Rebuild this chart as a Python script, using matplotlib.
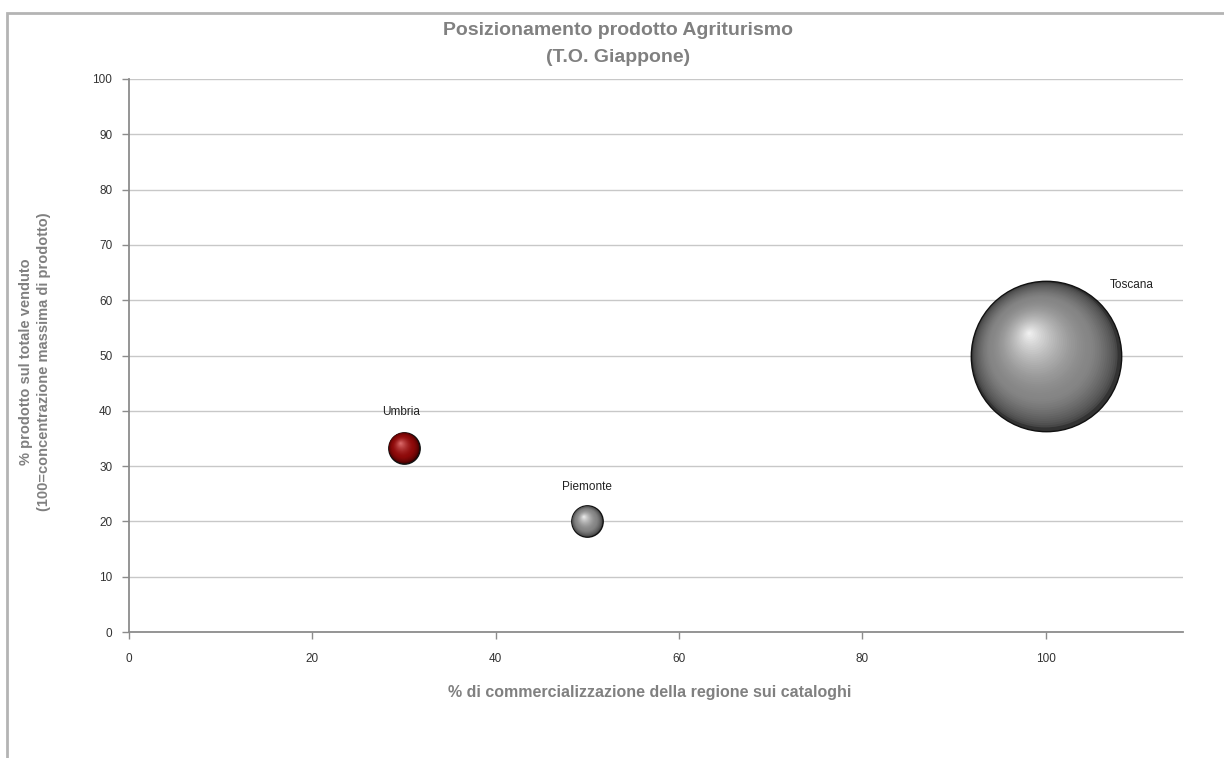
import numpy as np
import matplotlib
matplotlib.use("Agg")
import matplotlib.pyplot as plt
from matplotlib import transforms
from matplotlib.colors import to_rgb
from matplotlib.patches import Rectangle

# ---- data ----
regions = ["Umbria", "Piemonte", "Toscana"]
x_values = [30, 50, 100]          # % di commercializzazione
y_values = [33.3, 20, 50]         # % prodotto sul totale venduto
bubble_sizes = [1, 1, 23]         # relative bubble area
x_ticks = [0, 20, 40, 60, 80, 100]
y_ticks = [0, 10, 20, 30, 40, 50, 60, 70, 80, 90, 100]

# ---- styling ----
base_colors = {"Umbria": ("#3d0000", "#8e0a0a", "#e07070"),
               "Piemonte": ("#333333", "#858585", "#f0f0f0"),
               "Toscana": ("#333333", "#858585", "#f4f4f4")}
label_offsets = {"Umbria": (-2, 26), "Piemonte": (0, 25), "Toscana": (62, 51)}

FONT = ["Liberation Sans Narrow", "Liberation Sans", "DejaVu Sans"]
plt.rcParams["font.family"] = ["Liberation Sans", "DejaVu Sans"]

fig = plt.figure(figsize=(12.24, 7.58), dpi=100, facecolor="white")
ax = fig.add_axes([0.1054, 0.1662, 0.9665 - 0.1054, 0.8958 - 0.1662])
ax.set_facecolor("white")

# chart border (partially visible)
fig.patches.append(Rectangle((6.5 / 1224, -0.1), 1.2, 1 - 12.5 / 758 + 0.1,
                             transform=fig.transFigure, fill=False,
                             edgecolor="#b4b4b4", linewidth=2.0, zorder=0))

ax.set_xlim(0, 115)
ax.set_ylim(0, 100)
ax.set_xticks(x_ticks)
ax.set_yticks(y_ticks)
ax.yaxis.grid(True, color="#c8c8c8", linewidth=1.0)
ax.set_axisbelow(True)
for s in ["top", "right"]:
    ax.spines[s].set_visible(False)
for s in ["left", "bottom"]:
    ax.spines[s].set_color("#8c8c8c")
    ax.spines[s].set_linewidth(1.3)
ax.tick_params(axis="both", colors="#8c8c8c", length=5, width=1.0,
               labelcolor="#333333", labelsize=8.5)
ax.tick_params(axis="x", pad=10)
ax.tick_params(axis="y", pad=7)

SCALE = 510.0  # points^2 per size unit


def lerp(c1, c2, t):
    a, b = np.array(to_rgb(c1)), np.array(to_rgb(c2))
    return tuple(a + (b - a) * t)


for name, xv, yv, sz in zip(regions, x_values, y_values, bubble_sizes):
    s = sz * SCALE
    r = np.sqrt(s) / 2.0  # radius in points
    dark, mid, light = base_colors[name]
    # outline + darkest rim
    ax.scatter([xv], [yv], s=s, color=dark, edgecolors="#111111",
               linewidths=1.0, zorder=3)
    hx, hy = -0.22 * r, 0.30 * r
    n = 45
    for k in range(1, n):
        t = k / n
        rad = r * (1 - t) * 0.985
        off = transforms.offset_copy(ax.transData, fig=fig, x=hx * t,
                                     y=hy * t, units="points")
        if t < 0.3:
            col = lerp(dark, mid, (t / 0.3) ** 0.55)
        else:
            col = lerp(mid, light, ((t - 0.3) / 0.7) ** 1.5)
        ax.scatter([xv], [yv], s=(2 * rad) ** 2, color=col, edgecolors="none",
                   transform=off, zorder=3 + t)
    dx, dy = label_offsets[name]
    ax.annotate(name, (xv, yv), xytext=(dx, dy), textcoords="offset points",
                ha="center", va="center", fontsize=8.5, color="#222222",
                zorder=6)

fig.text(0.505, 1 - 44 / 758, "Posizionamento prodotto Agriturismo\n(T.O. Giappone)",
         ha="center", va="center", fontsize=14, fontweight="bold",
         color="#808080", family=FONT, linespacing=1.75)
fig.text(650 / 1224, 1 - 692 / 758, "% di commercializzazione della regione sui cataloghi",
         ha="center", va="center", fontsize=11.5, fontweight="bold",
         color="#808080", family=FONT)
fig.text(35 / 1224, 1 - 362 / 758,
         "% prodotto sul totale venduto\n(100=concentrazione massima di prodotto)",
         ha="center", va="center", rotation=90, fontsize=10.5,
         fontweight="bold", color="#808080", family=FONT, linespacing=1.35)

fig.savefig("out.png", dpi=100, facecolor="white")
